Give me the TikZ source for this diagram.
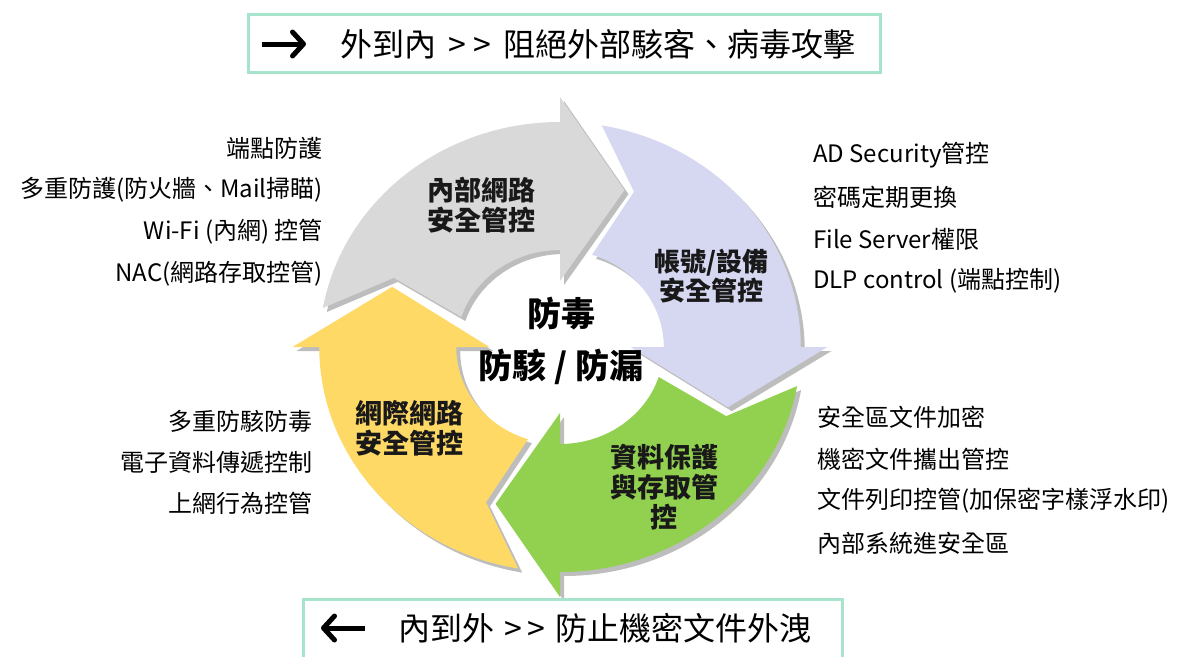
\documentclass[tikz,border=0pt]{standalone}
\usepackage{fontspec}
\setmainfont{Noto Sans CJK TC}
\newfontfamily\boxfont{Noto Sans CJK TC}
\usetikzlibrary{arrows.meta}
\definecolor{ringgray}{HTML}{D9D9D9}
\definecolor{ringpurple}{HTML}{D6D8F2}
\definecolor{ringgreen}{HTML}{92D050}
\definecolor{ringyellow}{HTML}{FFD966}
\definecolor{shadowgray}{HTML}{BDBDBD}
\definecolor{mint}{HTML}{A8E4CC}
\newcommand\ringarrow[2]{%
  \path[#2] ({#1+80}:225) arc[start angle={#1+80}, end angle={#1}, radius=225]
    -- (#1:250) -- ({#1-21}:168) -- (#1:66) -- (#1:97)
    arc[start angle={#1}, end angle={#1+72}, radius=97]
    -- ({#1+66}:170) -- cycle;}
\tikzset{
  side/.style={inner sep=0pt, font=\fontsize{24}{26}\selectfont},
  lbl/.style={inner sep=0pt, align=center, text=black!90, font=\bfseries\fontsize{27}{30}\selectfont},
  mid/.style={inner sep=0pt, font=\bfseries\fontsize{34}{36}\selectfont},
  boxframe/.style={draw=mint, line width=3pt, fill=white, inner sep=0pt},
  boxtext/.style={inner sep=0pt, anchor=west, font=\boxfont\fontsize{32}{34}\selectfont},
  dirarrow/.style={line width=5pt, -{Straight Barb[length=11pt, width=24pt, line join=round, line cap=round]}}
}
\begin{document}
\begin{tikzpicture}[x=1pt, y=-1pt]
\useasboundingbox (0,0) rectangle (1180,656);
\clip (0,0) rectangle (1180,656);
\fill[white] (0,0) rectangle (1180,656);
% ring
\begin{scope}[shift={(560,347)}, x=1.07pt, y=1pt]
  \ringarrow{90}{fill=shadowgray, xshift=4pt, yshift=-4pt}
  \ringarrow{0}{fill=shadowgray, xshift=4pt, yshift=-4pt}
  \ringarrow{270}{fill=shadowgray, xshift=4pt, yshift=-4pt}
  \ringarrow{180}{fill=shadowgray, xshift=4pt, yshift=-4pt}
  \ringarrow{90}{fill=ringgray}
  \ringarrow{0}{fill=ringpurple}
  \ringarrow{270}{fill=ringgreen}
  \ringarrow{180}{fill=ringyellow}
\end{scope}
% arrow labels
\node[lbl] (lgray) at (481,205) {內部網路\\安全管控};
\node[lbl, font=\bfseries\fontsize{26}{28.5}\selectfont] (lpurple) at (711,276) {帳號/設備\\安全管控};
\node[lbl] (lyellow) at (409,428) {網際網路\\安全管控};
\node[lbl] (lgreen) at (664,487) {資料保護\\與存取管\\控};
% centre
\node[mid] (c1) at (561,314) {防毒};
\node[mid] (c2) at (561,367) {防駭 / 防漏};
% left top
\node[side, anchor=east] (a1) at (323,148) {端點防護};
\node[side, anchor=east] (a2) at (323,190) {多重防護(防火牆、Mail掃瞄)};
\node[side, anchor=east] (a3) at (323,232) {Wi-Fi (內網) 控管};
\node[side, anchor=east] (a4) at (323,274) {NAC(網路存取控管)};
% right top
\node[side, anchor=west] (b1) at (813,155) {AD Security管控};
\node[side, anchor=west] (b2) at (813,197) {密碼定期更換};
\node[side, anchor=west] (b3) at (813,239) {File Server權限};
\node[side, anchor=west] (b4) at (813,281) {DLP control (端點控制)};
% right bottom
\node[side, anchor=west] (d1) at (817,417) {安全區文件加密};
\node[side, anchor=west] (d2) at (817,459) {機密文件攜出管控};
\node[side, anchor=west] (d3) at (817,501) {文件列印控管(加保密字樣浮水印)};
\node[side, anchor=west] (d4) at (817,543) {內部系統進安全區};
% left bottom
\node[side, anchor=east] (e1) at (313,421) {多重防駭防毒};
\node[side, anchor=east] (e2) at (313,462) {電子資料傳遞控制};
\node[side, anchor=east] (e3) at (313,503) {上網行為控管};
% top box
\node[boxframe, minimum width=632pt, minimum height=58pt] (topbox) at (564,43) {};
\coordinate (ta1) at (262,44);
\coordinate (ta2) at (306,44);
\draw[dirarrow] (ta1) -- (ta2);
\node[boxtext] (toptext) at (340,44) {外到內 \hspace{5pt}>\hspace{7pt}> \hspace{5pt}阻絕外部駭客、病毒攻擊};
% bottom box
\node[boxframe, minimum width=539pt, minimum height=90pt] (botbox) at (572.5,644) {};
\coordinate (ba1) at (365,628);
\coordinate (ba2) at (321,628);
\draw[dirarrow] (ba1) -- (ba2);
\node[boxtext] (bottext) at (398,628) {內到外 \hspace{3pt}>\hspace{5pt}> \hspace{3pt}防止機密文件外洩};
\end{tikzpicture}
\end{document}
